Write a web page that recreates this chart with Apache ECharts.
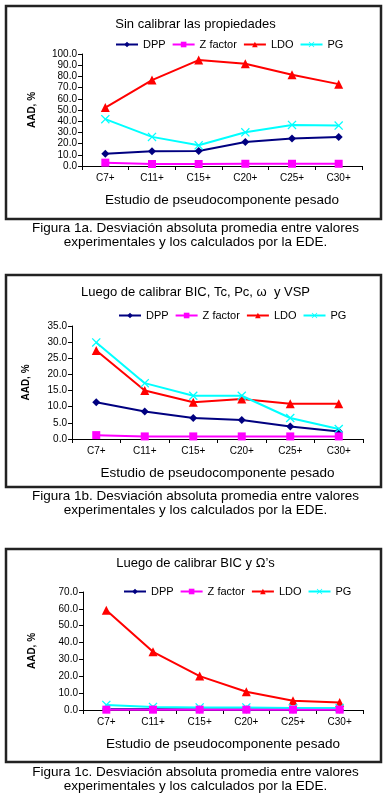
<!DOCTYPE html>
<html><head><meta charset="utf-8">
<script src="https://cdn.jsdelivr.net/npm/echarts@6/dist/echarts.min.js"></script>
<style>html,body{margin:0;padding:0;background:#fff}#c{width:391px;height:800px}</style>
</head><body><div id="c"></div>
<script>
const categories = ['C7+','C11+','C15+','C20+','C25+','C30+'];
const seriesNames = ['DPP','Z factor','LDO','PG'];

// Figura 1a
const a_DPP = [11.0, 13.1, 13.4, 21.5, 24.5, 26.0];
const a_Z   = [3.0, 1.8, 1.8, 2.0, 2.0, 2.0];
const a_LDO = [52.2, 76.7, 94.6, 91.3, 81.5, 73.1];
const a_PG  = [41.8, 26.0, 18.5, 30.1, 36.7, 36.1];
// Figura 1b
const b_DPP = [11.4, 8.5, 6.5, 5.9, 3.9, 2.3];
const b_Z   = [1.2, 0.8, 0.8, 0.8, 0.8, 0.8];
const b_LDO = [27.4, 15.0, 11.4, 12.4, 10.9, 10.9];
const b_PG  = [29.9, 17.3, 13.4, 13.4, 6.5, 3.1];
// Figura 1c
const c_DPP = [0.5, 0.4, 0.3, 0.3, 0.3, 0.3];
const c_Z   = [0.2, 0.2, 0.2, 0.2, 0.2, 0.2];
const c_LDO = [59.2, 34.5, 20.1, 10.8, 5.5, 4.5];
const c_PG  = [3.0, 1.8, 1.5, 1.5, 1.2, 1.2];

const titles = ['Sin calibrar las propiedades', 'Luego de calibrar BIC, Tc, Pc, \u03c9  y VSP', 'Luego de calibrar BIC y \u03a9\u2019s'];
const captions = ['Figura 1a. Desviación absoluta promedia entre valores', 'Figura 1b. Desviación absoluta promedia entre valores', 'Figura 1c. Desviación absoluta promedia entre valores'];
const caption2 = 'experimentales y los calculados por la EDE.';
const yMax = [100, 35, 70];
const yInterval = [10, 5, 10];
const xTitle = 'Estudio de pseudocomponente pesado';
const yTitle = 'AAD, %';

const FONT = '"Liberation Sans", Arial, sans-serif';
const colors = ['#000080', '#FF00FF', '#FF0000', '#00FFFF'];
const xPath = 'path://M0,1L1,0L5,4L9,0L10,1L6,5L10,9L9,10L5,6L1,10L0,9L4,5Z';
const symbols = ['diamond', 'rect', 'triangle', xPath];
const symSizes = [8, 8, 9, 9];

const data = [[a_DPP, a_Z, a_LDO, a_PG],[b_DPP, b_Z, b_LDO, b_PG],[c_DPP, c_Z, c_LDO, c_PG]];

const grids = [
  {left: 82, right: 29, top: 54, bottom: 634},
  {left: 72, right: 28, top: 326, bottom: 361},
  {left: 83, right: 28, top: 592, bottom: 90}
];
const boxes = [[6, 6, 375, 213], [6, 275, 375, 212], [6, 549, 375, 213]];
const titleTops = [13, 281, 552];
const legendTops = [34, 305, 581];
const legendLefts = [110, 113, 118];
const captionTops = [221, 489, 765];
const yNameX = [32, 26, 32];

const chart = echarts.init(document.getElementById('c'), null, {renderer: 'canvas'});

const option = {
  backgroundColor: '#fff',
  animation: false,
  title: titles.map((t, i) => ({
    text: t, left: 'center', top: titleTops[i],
    textStyle: {fontFamily: FONT, fontSize: 13, fontWeight: 'normal', color: '#000'}
  })),
  legend: [0,1,2].map(i => ({
    data: seriesNames.map((n) => ({name: n})),
    left: legendLefts[i], top: legendTops[i],
    itemWidth: 22, itemHeight: 7, itemGap: 6,
    textStyle: {fontFamily: FONT, fontSize: 11, color: '#000'},
    selectedMode: false
  })),
  grid: grids,
  xAxis: [0,1,2].map(i => ({
    type: 'category', gridIndex: i, data: categories, boundaryGap: true,
    name: xTitle, nameLocation: 'middle', nameGap: 27,
    nameTextStyle: {fontFamily: FONT, fontSize: 13.5, color: '#000'},
    axisLine: {lineStyle: {color: '#000', width: 1}},
    axisTick: {show: true, inside: false, length: 4, lineStyle: {color: '#000'}},
    axisLabel: {fontFamily: FONT, fontSize: 10, color: '#000', margin: 7},
    splitLine: {show: false}
  })),
  yAxis: [0,1,2].map(i => ({
    type: 'value', gridIndex: i, min: 0, max: yMax[i], interval: yInterval[i],
    axisLine: {show: true, lineStyle: {color: '#000', width: 1}},
    axisTick: {show: true, length: 4, lineStyle: {color: '#000'}},
    axisLabel: {fontFamily: FONT, fontSize: 10, color: '#000', margin: 5, formatter: v => v.toFixed(1)},
    splitLine: {show: false}
  })),
  series: [],
  graphic: []
};

for (let g = 0; g < 3; g++) {
  for (let s = 0; s < 4; s++) {
    option.series.push({
      type: 'line', name: seriesNames[s], xAxisIndex: g, yAxisIndex: g,
      data: data[g][s],
      symbol: symbols[s], symbolSize: symSizes[s], showAllSymbol: true,
      itemStyle: {color: colors[s]},
      lineStyle: {color: colors[s], width: 2},
      z: s === 1 ? 3 : 2
    });
  }
}

for (let i = 0; i < 3; i++) {
  const b = boxes[i];
  option.graphic.push({
    type: 'rect', shape: {x: b[0], y: b[1], width: b[2], height: b[3]},
    style: {fill: 'none', stroke: '#222', lineWidth: 2.5}, z: 0, silent: true
  });
  const g = grids[i];
  const midY = g.top + (800 - g.top - g.bottom) / 2;
  option.graphic.push({
    type: 'text', x: yNameX[i], y: midY, rotation: Math.PI / 2,
    style: {text: yTitle, font: 'bold 10px ' + FONT, fill: '#000', textAlign: 'center', textVerticalAlign: 'middle'},
    silent: true
  });
  option.graphic.push({
    type: 'text', x: 195.5, y: captionTops[i],
    style: {text: captions[i] + '\n' + caption2, font: '13.5px ' + FONT, fill: '#000', textAlign: 'center', lineHeight: 14},
    silent: true
  });
}

chart.setOption(option);
</script>
</body></html>
